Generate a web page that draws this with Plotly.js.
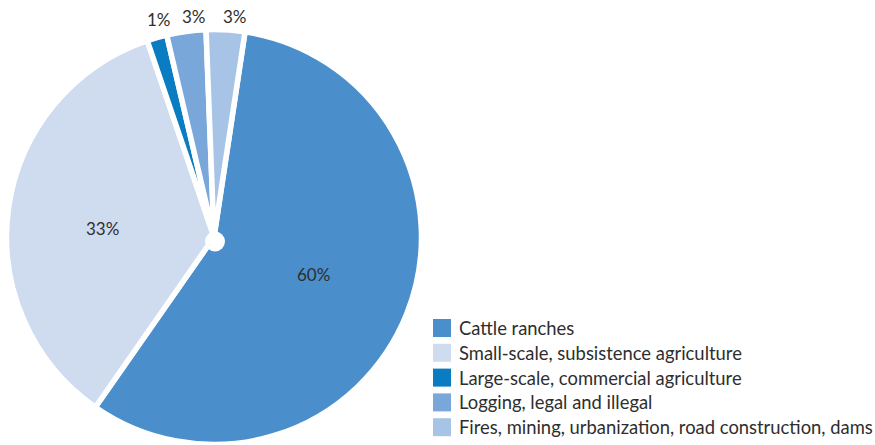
<!DOCTYPE html>
<html>
<head>
<meta charset="utf-8">
<script src="https://cdn.plot.ly/plotly-3.0.1.min.js"></script>
<style>html,body{margin:0;padding:0;background:#fff;}#chart{width:875px;height:445px;}</style>
</head>
<body>
<div id="chart"></div>
<script>
const categories = [
  "Cattle ranches",
  "Small-scale, subsistence agriculture",
  "Large-scale, commercial agriculture",
  "Logging, legal and illegal",
  "Fires, mining, urbanization, road construction, dams"
];
// slice sizes as drawn in the picture (angles measured), and the printed labels
const shares = [57.3, 35.1, 1.55, 3.05, 3.0];
const shareLabels = ["60%", "33%", "1%", "3%", "3%"];
const colors = ["#4a8fcc", "#cfdcf0", "#0a7cc1", "#7aa7d9", "#a7c4e7"];

// label placement tweaks (layout only): radius in px and angle shift in degrees
const labelRadius = [106, 112, 224, 221, 221];
const labelAngleShift = [-1.1, -3.8, 1.7, 2.4, 2.2];

const W = 875, H = 445;
const cx = 214, cy = 237, r = 207.5;
const rotation = 8.6;
const FONT = "Lato, 'Open Sans', sans-serif";
const TEXT = "#2e2e2e";

const px = x => x / W;
const py = y => 1 - y / H;

const trace = {
  type: "pie",
  labels: categories,
  values: shares,
  sort: false,
  direction: "clockwise",
  rotation: rotation,
  marker: { colors: colors, line: { color: "#ffffff", width: 5.5 } },
  textinfo: "none",
  hoverinfo: "label",
  domain: { x: [px(cx - r), px(cx + r)], y: [py(cy + r), py(cy - r)] },
  automargin: false,
  showlegend: false
};

// percentage labels at each slice's mid-angle
const total = shares.reduce((a, b) => a + b, 0);
const annotations = [];
let cum = 0;
shares.forEach((v, i) => {
  const mid = rotation + (cum + v / 2) / total * 360 + labelAngleShift[i];
  cum += v;
  const a = mid * Math.PI / 180;
  const x = cx + labelRadius[i] * Math.sin(a);
  const y = cy - labelRadius[i] * Math.cos(a);
  annotations.push({
    xref: "paper", yref: "paper", x: px(x), y: py(y),
    xanchor: "center", yanchor: "middle", showarrow: false,
    text: shareLabels[i],
    font: { family: FONT, size: 17, color: TEXT }
  });
});

// legend drawn from categories and colors
const legendX = 433, legendY0 = 328, legendStep = 24.8, sq = 18;
const shapes = [];
categories.forEach((c, i) => {
  const yc = legendY0 + i * legendStep;
  shapes.push({
    type: "rect", xref: "paper", yref: "paper",
    x0: px(legendX), x1: px(legendX + sq), y0: py(yc + sq / 2), y1: py(yc - sq / 2),
    fillcolor: colors[i], line: { width: 0 }
  });
  annotations.push({
    xref: "paper", yref: "paper", x: px(legendX + 24), y: py(yc),
    xanchor: "left", yanchor: "middle", showarrow: false,
    text: c, font: { family: FONT, size: 18.4, color: TEXT }
  });
});

// white hub at the centre
shapes.push({
  type: "circle", xref: "paper", yref: "paper",
  x0: px(cx + 1 - 10), x1: px(cx + 1 + 10), y0: py(cy + 4.5 + 10), y1: py(cy + 4.5 - 10),
  fillcolor: "#ffffff", line: { width: 0 }
});

const layout = {
  width: W, height: H,
  margin: { l: 0, r: 0, t: 0, b: 0 },
  paper_bgcolor: "#ffffff",
  showlegend: false,
  shapes: shapes,
  annotations: annotations
};

Plotly.newPlot("chart", [trace], layout, { displayModeBar: false });
</script>
</body>
</html>
